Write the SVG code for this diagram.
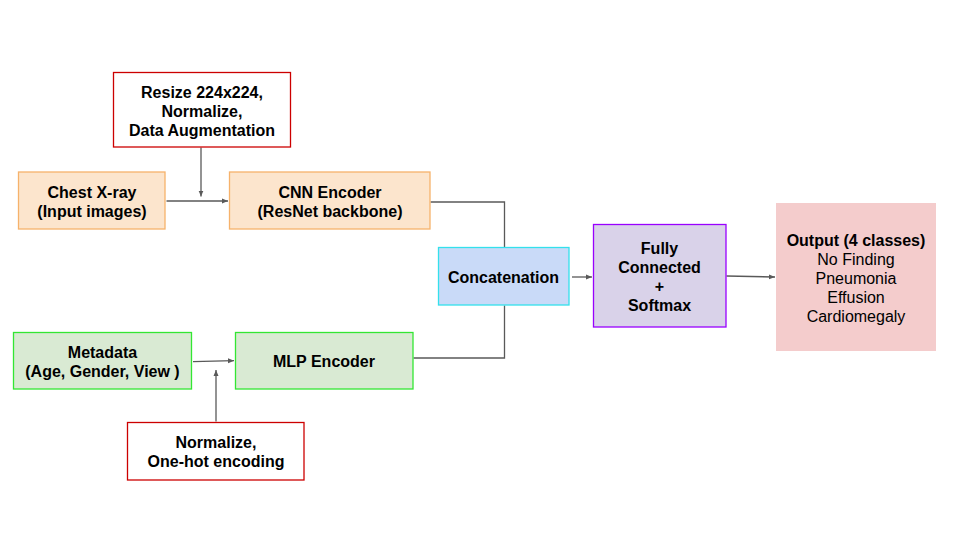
<svg xmlns="http://www.w3.org/2000/svg" width="960" height="540" viewBox="0 0 960 540">
<style>
text{font-family:"Liberation Sans",Arial,sans-serif;font-size:16px;fill:#000;text-anchor:middle}
.b{font-weight:bold}
.org{fill:#fce5cd;stroke:#f6b26b;stroke-width:1.3}
.grn{fill:#d9ead3;stroke:#33e633;stroke-width:1.3}
.red{fill:#ffffff;stroke:#cc0000;stroke-width:1.3}
.con{fill:none;stroke:#595959;stroke-width:1.3}
</style>
<defs>
<marker id="ah" markerUnits="userSpaceOnUse" markerWidth="7" markerHeight="6" refX="6" refY="3" orient="auto">
<path d="M0,0.5 L6,3 L0,5.5 z" fill="#595959"/>
</marker>
</defs>
<rect width="960" height="540" fill="#ffffff"/>
<g id="connectors">
<line class="con" x1="166.5" y1="201" x2="228" y2="201" marker-end="url(#ah)"/>
<line class="con" x1="201" y1="147.5" x2="201" y2="196.5" marker-end="url(#ah)"/>
<polyline class="con" points="430.5,202 504.5,202 504.5,247"/>
<polyline class="con" points="413.5,358 504.5,358 504.5,305.5"/>
<line class="con" x1="572" y1="277" x2="592" y2="277" marker-end="url(#ah)"/>
<line class="con" x1="726.5" y1="276" x2="775" y2="277" marker-end="url(#ah)"/>
<line class="con" x1="193" y1="361.7" x2="234" y2="360.7" marker-end="url(#ah)"/>
<line class="con" x1="216" y1="421.5" x2="216" y2="370" marker-end="url(#ah)"/>
</g>
<g id="resize">
<rect class="red" x="113.5" y="72.5" width="177" height="74.5"/>
<text class="b" x="202" y="98">Resize 224x224,</text>
<text class="b" x="202" y="117">Normalize,</text>
<text class="b" x="202" y="136">Data Augmentation</text>
</g>
<g id="chest">
<rect class="org" x="18.5" y="172" width="146.5" height="57"/>
<text class="b" x="92" y="198">Chest X-ray</text>
<text class="b" x="92" y="217">(Input images)</text>
</g>
<g id="cnn">
<rect class="org" x="229.5" y="172" width="200.5" height="57"/>
<text class="b" x="330" y="198">CNN Encoder</text>
<text class="b" x="330" y="217">(ResNet backbone)</text>
</g>
<g id="concat">
<rect x="438.5" y="247.5" width="130.5" height="57.5" fill="#c9daf8" stroke="#33e0ec" stroke-width="1.3"/>
<text class="b" x="503.5" y="283">Concatenation</text>
</g>
<g id="fc">
<rect x="593.5" y="224.5" width="132.5" height="102.5" fill="#d9d2e9" stroke="#9900ff" stroke-width="1.3"/>
<text class="b" x="659.5" y="254">Fully</text>
<text class="b" x="659.5" y="273">Connected</text>
<text class="b" x="659.5" y="292">+</text>
<text class="b" x="659.5" y="311">Softmax</text>
</g>
<g id="output">
<rect x="776" y="203" width="160" height="148" fill="#f4cccc"/>
<text class="b" x="856" y="246">Output (4 classes)</text>
<text x="856" y="265">No Finding</text>
<text x="856" y="284">Pneumonia</text>
<text x="856" y="303">Effusion</text>
<text x="856" y="322">Cardiomegaly</text>
</g>
<g id="metadata">
<rect class="grn" x="13.5" y="332.5" width="178" height="56.5"/>
<text class="b" x="102.5" y="358">Metadata</text>
<text class="b" x="102.5" y="377">(Age, Gender, View )</text>
</g>
<g id="mlp">
<rect class="grn" x="235.5" y="332.5" width="177.5" height="56.5"/>
<text class="b" x="324" y="367">MLP Encoder</text>
</g>
<g id="normalize">
<rect class="red" x="127.5" y="422.5" width="176.5" height="57.5"/>
<text class="b" x="216" y="448">Normalize,</text>
<text class="b" x="216" y="467">One-hot encoding</text>
</g>
</svg>
